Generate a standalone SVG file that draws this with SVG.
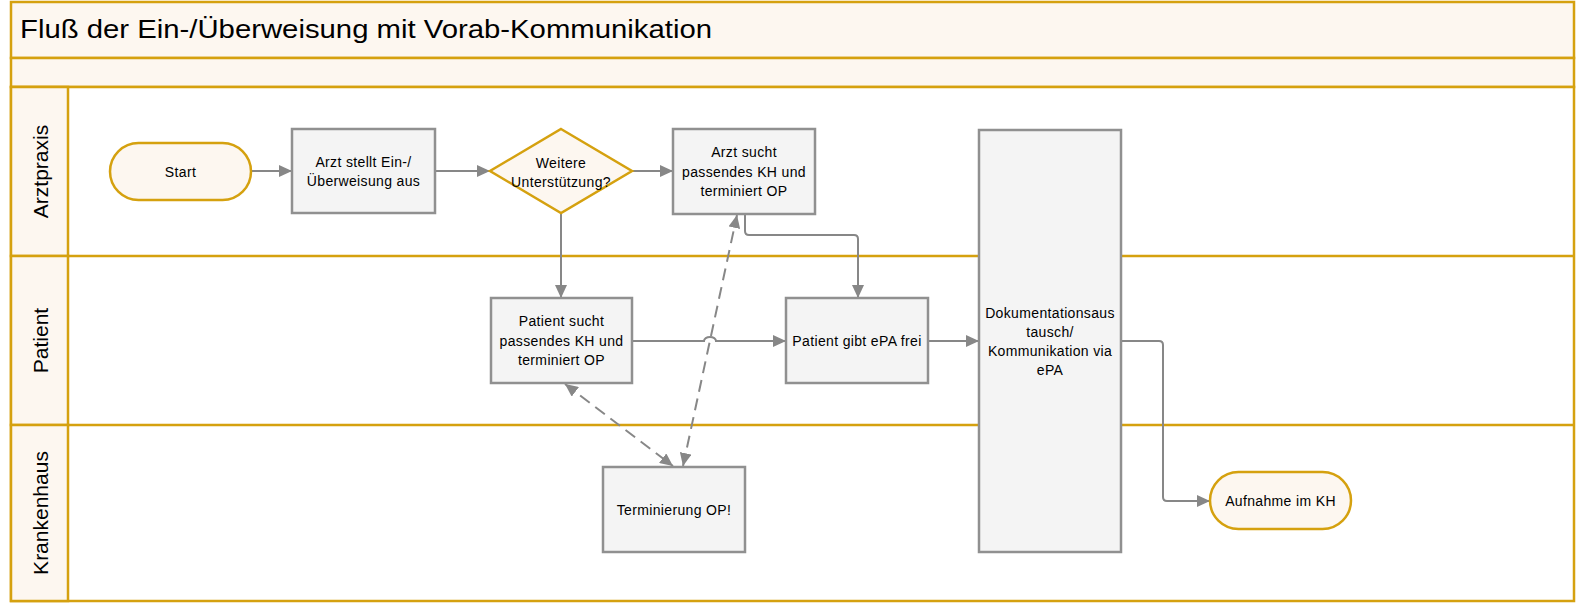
<svg xmlns="http://www.w3.org/2000/svg" width="1579" height="605" viewBox="0 0 1579 605">
<style>
.lane{fill:#FDF7F0;stroke:#D5A10F;stroke-width:2.5}
.line{stroke:#D5A10F;stroke-width:2.5;fill:none}
.box{fill:#F4F4F4;stroke:#909090;stroke-width:2.5}
.term{fill:#FDF7F0;stroke:#D5A10F;stroke-width:2.5}
.t{font-family:"Liberation Sans",Arial,sans-serif;font-size:14px;letter-spacing:0.35px;fill:#000;text-anchor:middle;dominant-baseline:central}
.lbl{font-family:"Liberation Sans",Arial,sans-serif;font-size:21px;fill:#000;text-anchor:middle;dominant-baseline:central}
.c{stroke:#878787;stroke-width:2;fill:none}
.d{stroke:#878787;stroke-width:2;fill:none;stroke-dasharray:12,7}
</style>
<defs>
<marker id="arr" markerUnits="userSpaceOnUse" markerWidth="13" markerHeight="12" refX="13" refY="6" orient="auto-start-reverse">
<path d="M0,0 L13,6 L0,12 z" fill="#878787"/>
</marker>
</defs>
<rect x="0" y="0" width="1579" height="605" fill="#FFFFFF"/>
<g id="pool">
<rect class="lane" x="11" y="2" width="1563" height="56"/>
<rect class="lane" x="11" y="58" width="1563" height="29"/>
<rect x="11" y="87" width="1563" height="514" fill="#FFFFFF" stroke="#D5A10F" stroke-width="2.5"/>
<rect class="lane" x="11" y="87" width="57" height="169"/>
<rect class="lane" x="11" y="256" width="57" height="169"/>
<rect class="lane" x="11" y="425" width="57" height="176"/>
<line class="line" x1="68" y1="256" x2="1574" y2="256"/>
<line class="line" x1="68" y1="425" x2="1574" y2="425"/>
<text x="20" y="38" font-family="Liberation Sans, Arial, sans-serif" font-size="26" textLength="692" lengthAdjust="spacingAndGlyphs" fill="#000">Fluß der Ein-/Überweisung mit Vorab-Kommunikation</text>
<text class="lbl" transform="translate(40,171.5) rotate(-90)">Arztpraxis</text>
<text class="lbl" transform="translate(40,340.5) rotate(-90)">Patient</text>
<text class="lbl" transform="translate(40,513) rotate(-90)">Krankenhaus</text>
</g>
<g id="connectors">
<path class="c" d="M251,171 H292" marker-end="url(#arr)"/>
<path class="c" d="M435,171 H490" marker-end="url(#arr)"/>
<path class="c" d="M632,171 H673" marker-end="url(#arr)"/>
<path class="c" d="M561,213 V298" marker-end="url(#arr)"/>
<path class="c" d="M745,214 V231 Q745,235 749,235 H854 Q858,235 858,239 V298" marker-end="url(#arr)"/>
<path class="c" d="M632,341 H704 A6,4 0 0 1 716,341 H786" marker-end="url(#arr)"/>
<path class="c" d="M928,341 H979" marker-end="url(#arr)"/>
<path class="c" d="M1121,341 H1159 Q1163,341 1163,345 V497 Q1163,501 1167,501 H1210" marker-end="url(#arr)"/>
<path class="d" d="M565,384 L673,466" marker-start="url(#arr)" marker-end="url(#arr)"/>
<path class="d" d="M683,466 L737,215" marker-start="url(#arr)" marker-end="url(#arr)"/>
</g>
<g id="start">
<rect class="term" x="110" y="143" width="141" height="57" rx="28.5"/>
<text class="t" x="180.5" y="171.5">Start</text>
</g>
<g id="arzt-stellt">
<rect class="box" x="292" y="129" width="143" height="84"/>
<text class="t" x="363.5" y="162">Arzt stellt Ein-/</text>
<text class="t" x="363.5" y="181">Überweisung aus</text>
</g>
<g id="weitere">
<polygon points="561,129 632,171 561,213 490,171" fill="#FDF7F0" stroke="#D5A10F" stroke-width="2.5"/>
<text class="t" x="561" y="162.5">Weitere</text>
<text class="t" x="561" y="181.5">Unterstützung?</text>
</g>
<g id="arzt-sucht">
<rect class="box" x="673" y="129" width="142" height="85"/>
<text class="t" x="744" y="152">Arzt sucht</text>
<text class="t" x="744" y="171.5">passendes KH und</text>
<text class="t" x="744" y="191">terminiert OP</text>
</g>
<g id="patient-sucht">
<rect class="box" x="491" y="298" width="141" height="85"/>
<text class="t" x="561.5" y="321">Patient sucht</text>
<text class="t" x="561.5" y="341">passendes KH und</text>
<text class="t" x="561.5" y="360">terminiert OP</text>
</g>
<g id="patient-gibt">
<rect class="box" x="786" y="298" width="142" height="85"/>
<text class="t" x="857" y="341">Patient gibt ePA frei</text>
</g>
<g id="terminierung">
<rect class="box" x="603" y="467" width="142" height="85"/>
<text class="t" x="674" y="510">Terminierung OP!</text>
</g>
<g id="dokumentation">
<rect class="box" x="979" y="130" width="142" height="422"/>
<text class="t" x="1050" y="313">Dokumentationsaus</text>
<text class="t" x="1050" y="332">tausch/</text>
<text class="t" x="1050" y="351">Kommunikation via</text>
<text class="t" x="1050" y="370">ePA</text>
</g>
<g id="aufnahme">
<rect class="term" x="1210" y="472" width="141" height="57" rx="28.5"/>
<text class="t" x="1280.5" y="501">Aufnahme im KH</text>
</g>
</svg>
